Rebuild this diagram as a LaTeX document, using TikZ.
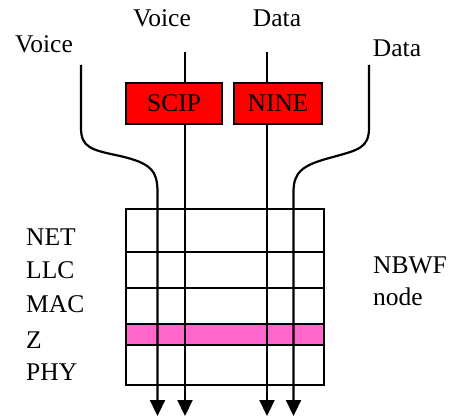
\documentclass[tikz,border=0pt]{standalone}
\usepackage{fontspec}
\setmainfont{Liberation Serif}
\usetikzlibrary{arrows.meta}
\definecolor{scipred}{RGB}{255,0,0}
\definecolor{zpink}{RGB}{255,102,204}
\begin{document}
\begin{tikzpicture}[x=1pt,y=-1pt,
  lbl/.style={inner sep=0pt,font=\fontsize{25.5}{30}\selectfont},
  layer/.style={draw,line width=2.2pt,minimum width=198pt,inner sep=0pt,anchor=north west},
  stream/.style={line width=2.2pt,-{Triangle[width=15pt 0,length=16pt 0]}},
  proc/.style={draw,line width=2.2pt,fill=scipred,minimum width=96pt,minimum height=41pt,inner sep=0pt,anchor=north west,font=\fontsize{25.5}{30}\selectfont}
]
\useasboundingbox (0,0) rectangle (449,417);
% labels
\node[lbl,anchor=base] (tv) at (162,27) {Voice};
\node[lbl,anchor=base] (td) at (277,27) {Data};
\node[lbl,anchor=base] (lv) at (44,53) {Voice};
\node[lbl,anchor=base] (rd) at (397,57) {Data};
\node[lbl,anchor=base west] (lnet) at (26,245) {NET};
\node[lbl,anchor=base west] (lllc) at (26,278) {LLC};
\node[lbl,anchor=base west] (lmac) at (26,312) {MAC};
\node[lbl,anchor=base west] (lz) at (26,348) {Z};
\node[lbl,anchor=base west] (lphy) at (26,380) {PHY};
\node[lbl,anchor=base west] (nb1) at (373,273) {NBWF};
\node[lbl,anchor=base west] (nb2) at (373,305) {node};
% protocol stack rows
\node[layer,minimum height=43pt] (rnet) at (125,208) {};
\node[layer,minimum height=36pt] (rllc) at (125,251) {};
\node[layer,minimum height=36pt] (rmac) at (125,287) {};
\node[layer,minimum height=21pt,fill=zpink] (rz) at (125,323) {};
\node[layer,minimum height=40pt] (rphy) at (125,344) {};
% stream end points
\coordinate (s1a) at (81,65);
\coordinate (s1b) at (157.5,416);
\coordinate (s2a) at (185,52);
\coordinate (s2b) at (185,416);
\coordinate (s3a) at (267,52);
\coordinate (s3b) at (267,416);
\coordinate (s4a) at (369,65);
\coordinate (s4b) at (293.5,416);
% streams
\draw[stream] (s1a) -- (81,128) .. controls (81,148) and (92,150) .. (120,156)
  .. controls (150,163) and (157.5,170) .. (157.5,192) -- (s1b);
\draw[stream] (s2a) -- (s2b);
\draw[stream] (s3a) -- (s3b);
\draw[stream] (s4a) -- (369,128) .. controls (369,148) and (358,150) .. (333,157)
  .. controls (302,165) and (293.5,172) .. (293.5,192) -- (s4b);
% processing boxes
\node[proc] (scip) at (125,82) {SCIP};
\node[proc,minimum width=88pt] (nine) at (233,82) {NINE};
\end{tikzpicture}
\end{document}
